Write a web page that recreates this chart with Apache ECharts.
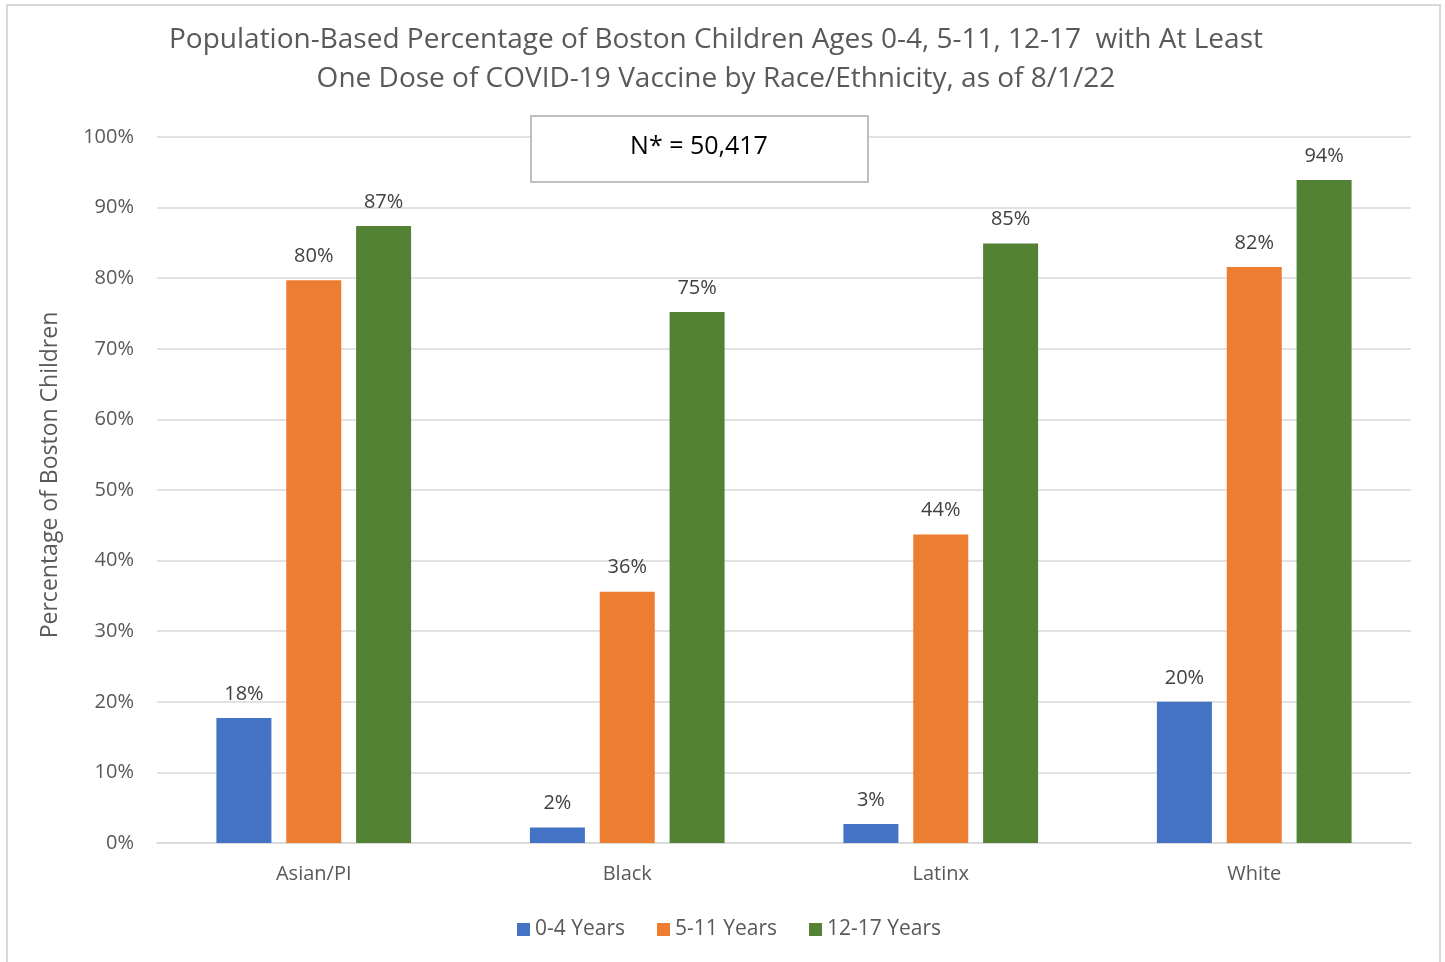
<!DOCTYPE html>
<html><head><meta charset="utf-8">
<script src="https://cdn.jsdelivr.net/npm/echarts@6/dist/echarts.min.js"></script>
<style>html,body{margin:0;padding:0;background:#fff}#c{width:1445px;height:962px}</style>
</head><body><div id="c"></div>
<script>
const categories = ['Asian/PI', 'Black', 'Latinx', 'White'];
const seriesNames = ['0-4 Years', '5-11 Years', '12-17 Years'];
const years0to4 = [17.7, 2.2, 2.7, 20.0];
const years5to11 = [79.7, 35.6, 43.7, 81.6];
const years12to17 = [87.4, 75.2, 84.9, 93.9];
const yTicks = [0, 10, 20, 30, 40, 50, 60, 70, 80, 90, 100];
const titleLines = ['Population-Based Percentage of Boston Children Ages 0-4, 5-11, 12-17  with At Least', 'One Dose of COVID-19 Vaccine by Race/Ethnicity, as of 8/1/22'];
const annotation = 'N* = 50,417';

const colors = ['#4472C4', '#ED7D31', '#548235'];
const font = 'Open Sans';
const chart = echarts.init(document.getElementById('c'));
const mk = (name, data, i) => ({
  name, type: 'bar', data, barWidth: 55, barGap: '27%',
  itemStyle: { color: colors[i] },
  label: { show: true, position: 'top', distance: 14, color: '#404040', fontSize: 20, fontFamily: font,
    formatter: p => Math.round(p.value) + '%' }
});
chart.setOption({
  animation: false,
  title: { text: titleLines.join('\n'), left: 711, textAlign: 'center', top: 16,
    textStyle: { fontFamily: font, fontSize: 28, fontWeight: 'normal', color: '#595959', lineHeight: 39 } },
  legend: { bottom: 17, left: 512, itemWidth: 13, itemHeight: 13, itemGap: 32, icon: 'rect',
    textStyle: { fontFamily: font, fontSize: 21, color: '#595959', padding: [0,0,0,0] }, data: seriesNames },
  grid: { left: 157, right: 34, top: 137, bottom: 119 },
  xAxis: { type: 'category', data: categories,
    axisLine: { lineStyle: { color: '#d9d9d9', width: 1.5 } }, axisTick: { show: false },
    axisLabel: { fontFamily: font, fontSize: 20, color: '#595959', margin: 21 } },
  yAxis: { type: 'value', min: 0, max: 100, interval: 10,
    name: 'Percentage of Boston Children', nameLocation: 'middle', nameGap: 95, nameRotate: 90,
    nameTextStyle: { fontFamily: font, fontSize: 23, color: '#595959', padding: [0, 0, 0, 30] },
    axisLabel: { fontFamily: font, fontSize: 20, color: '#595959', margin: 23,
      formatter: v => yTicks.includes(v) ? v + '%' : '' },
    splitLine: { lineStyle: { color: '#d9d9d9', width: 1.5 } } },
  series: [mk(seriesNames[0], years0to4, 0), mk(seriesNames[1], years5to11, 1), mk(seriesNames[2], years12to17, 2)],
  graphic: [
    { type: 'rect', shape: { x: 7, y: 5, width: 1433, height: 970 }, style: { fill: 'none', stroke: '#d9d9d9', lineWidth: 2 }, silent: true },
    { type: 'rect', shape: { x: 531, y: 116, width: 337, height: 66 }, style: { fill: '#fff', stroke: '#bfbfbf', lineWidth: 2 }, z: 10 },
    { type: 'text', x: 699, y: 147, style: { text: annotation, font: '25px "' + font + '"', fill: '#000', textAlign: 'center', textVerticalAlign: 'middle' }, z: 11 }
  ]
});
</script></body></html>
